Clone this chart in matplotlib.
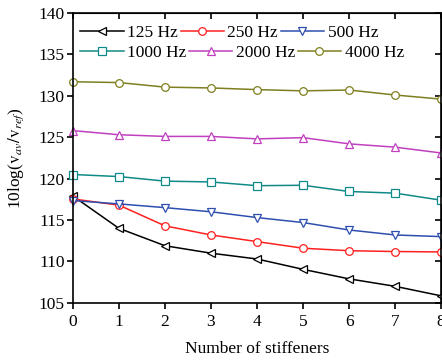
import numpy as np
import matplotlib
matplotlib.use("Agg")
import matplotlib.pyplot as plt

plt.rcParams['font.family'] = ['Liberation Serif', 'DejaVu Serif']
plt.rcParams['mathtext.fontset'] = 'stix'

stiffeners = [0, 1, 2, 3, 4, 5, 6, 7, 8]
labels = ["125 Hz", "250 Hz", "500 Hz", "1000 Hz", "2000 Hz", "4000 Hz"]
f125 = [117.9, 114.0, 111.9, 111.0, 110.3, 109.05, 107.9, 107.0, 105.85]
f250 = [117.55, 116.8, 114.3, 113.2, 112.4, 111.6, 111.3, 111.2, 111.15]
f500 = [117.35, 116.95, 116.5, 116.0, 115.3, 114.7, 113.8, 113.2, 113.0]
f1000 = [120.5, 120.25, 119.7, 119.6, 119.15, 119.2, 118.45, 118.25, 117.4]
f2000 = [125.8, 125.3, 125.1, 125.1, 124.8, 124.95, 124.2, 123.8, 123.1]
f4000 = [131.7, 131.6, 131.05, 130.95, 130.75, 130.6, 130.7, 130.1, 129.6]

series = [f125, f250, f500, f1000, f2000, f4000]
colors = ["black", "#ff2020", "#2f4fb0", "#108a88", "#c040c0", "#7f7f20"]
markers = ["<", "o", "v", "s", "^", "o"]

fig = plt.figure(figsize=(4.42, 3.61), dpi=100)
ax = fig.add_axes([0.165, 0.161, 0.833, 0.803])

lines = []
for ys, lab, c, m in zip(series, labels, colors, markers):
    ln, = ax.plot(stiffeners, ys, color=c, marker=m, markersize=5.5, markerfacecolor="white",
                  markeredgecolor=c, markeredgewidth=0.9, linewidth=1.1, label=lab, clip_on=False)
    lines.append(ln)

ax.set_xlim(0, 8)
ax.set_ylim(105, 140)
ax.set_xticks(range(0, 9))
ax.set_yticks(range(105, 141, 5))
ax.tick_params(direction="out", length=4, width=1.2, labelsize=12.5)
ax.tick_params(axis="x", pad=4)
ax.tick_params(axis="y", pad=2)
for s in ax.spines.values():
    s.set_linewidth(1.2)

top = ax.secondary_xaxis('top')
top.set_xticks(range(0, 9))
top.tick_params(direction="in", length=4, width=1.2, labeltop=False)
right = ax.secondary_yaxis('right')
right.set_yticks(range(105, 141, 5))
right.tick_params(direction="in", length=4, width=1.2, labelright=False)

ax.set_xlabel("Number of stiffeners", fontsize=12.5, labelpad=8)
ax.set_ylabel(r"10log($\mathrm{v}_{av}/\mathrm{v}_{ref}$)", fontsize=12.5, labelpad=9)

# two legend rows, each packed on its own like the original
leg_kw = dict(loc="upper left", ncol=3, frameon=False, fontsize=12.5, handlelength=2.5,
              handletextpad=0.2, columnspacing=0.15, borderaxespad=0.0, borderpad=0.0)
leg1 = ax.legend(lines[:3], labels[:3], bbox_to_anchor=(0.02, 0.958), **leg_kw)
ax.add_artist(leg1)
ax.legend(lines[3:], labels[3:], bbox_to_anchor=(0.02, 0.891), **leg_kw)

fig.savefig("out.png", dpi=100)
